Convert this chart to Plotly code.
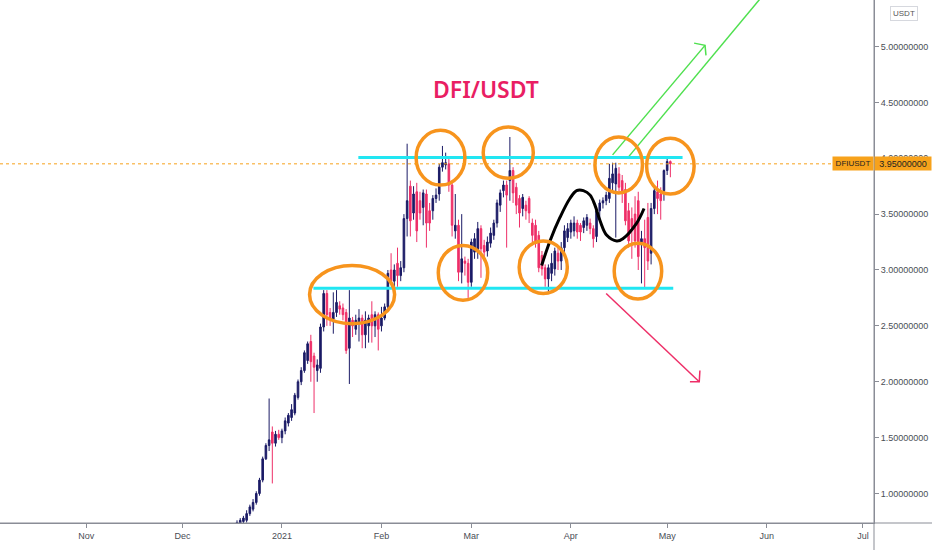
import pandas as pd
import plotly.graph_objects as go

# ---------------- data (daily DFI/USDT candles) ----------------
start_date = "2020-12-18"
opens = [0.70, 0.73, 0.75, 0.76, 0.82, 0.86, 0.92, 1.00, 1.12, 1.31,
         1.43, 1.55, 1.45, 1.53, 1.50, 1.56, 1.63, 1.68, 1.72, 1.86,
         2.00, 2.10, 2.19, 2.36, 2.23, 2.10, 2.12, 2.49, 2.79, 2.62,
         2.56, 2.62, 2.68, 2.66, 2.62, 2.30, 2.55, 2.47, 2.52, 2.57,
         2.42, 2.50, 2.60, 2.50, 2.60, 2.50, 2.57, 2.67, 3.00, 2.90,
         3.06, 2.95, 3.02, 3.46, 3.75, 3.51, 3.70, 3.62, 3.56, 3.68,
         3.53, 3.53, 3.64, 3.68, 3.92, 3.94, 3.95, 3.76, 3.35, 3.40,
         2.98, 3.08, 3.06, 2.89, 3.16, 3.16, 3.37, 3.22, 3.17, 3.24,
         3.31, 3.42, 3.58, 3.71, 3.76, 3.80, 3.89, 3.74, 3.64, 3.55,
         3.58, 3.64, 3.42, 3.40, 3.31, 3.13, 3.02, 2.92, 2.97, 3.01,
         3.15, 3.08, 3.20, 3.29, 3.34, 3.35, 3.42, 3.40, 3.38, 3.40,
         3.42, 3.37, 3.30, 3.53, 3.60, 3.62, 3.64, 3.78, 3.77, 3.86,
         3.80, 3.72, 3.53, 3.46, 3.50, 3.62, 3.24, 3.28, 3.47, 3.15,
         3.55, 3.70, 3.68, 3.71, 3.89, 3.97]
highs = [0.76, 0.78, 0.80, 0.85, 0.90, 0.95, 1.02, 1.14, 1.33, 1.45,
         1.85, 1.60, 1.56, 1.57, 1.58, 1.68, 1.72, 1.80, 1.90, 2.02,
         2.13, 2.28, 2.36, 2.42, 2.26, 2.20, 2.52, 2.82, 2.82, 2.66,
         2.80, 2.82, 2.72, 2.70, 2.65, 2.82, 2.58, 2.60, 2.65, 2.60,
         2.63, 2.60, 2.72, 2.63, 2.62, 2.67, 2.70, 3.00, 3.15, 3.05,
         3.20, 3.08, 3.50, 4.13, 3.80, 3.75, 3.78, 3.70, 3.72, 3.72,
         3.60, 3.67, 3.73, 3.95, 4.11, 4.05, 4.00, 3.78, 3.68, 3.45,
         3.50, 3.12, 3.10, 3.28, 3.33, 3.43, 3.40, 3.27, 3.30, 3.38,
         3.45, 3.63, 3.72, 3.80, 3.80, 4.19, 3.92, 3.78, 3.67, 3.68,
         3.62, 3.66, 3.46, 3.45, 3.35, 3.17, 3.05, 3.05, 3.15, 3.20,
         3.22, 3.25, 3.40, 3.42, 3.45, 3.48, 3.45, 3.42, 3.47, 3.50,
         3.46, 3.40, 3.56, 3.63, 3.65, 3.70, 3.95, 3.96, 3.96, 3.92,
         3.85, 3.78, 3.60, 3.56, 3.66, 3.70, 3.35, 3.45, 3.60, 3.60,
         3.75, 3.80, 3.74, 3.90, 4.00, 3.98]
lows = [0.68, 0.71, 0.73, 0.74, 0.80, 0.84, 0.90, 0.98, 1.10, 1.30,
        1.38, 1.09, 1.42, 1.48, 1.45, 1.53, 1.60, 1.65, 1.70, 1.84,
        1.97, 2.08, 2.16, 2.00, 1.72, 2.00, 2.08, 2.45, 2.50, 2.50,
        2.43, 2.58, 2.60, 2.55, 2.25, 1.98, 2.40, 2.42, 2.36, 2.30,
        2.30, 2.35, 2.35, 2.40, 2.28, 2.45, 2.55, 2.65, 2.88, 2.85,
        2.85, 2.90, 2.98, 3.30, 3.30, 3.45, 3.25, 3.45, 3.40, 3.20,
        3.35, 3.45, 3.60, 3.62, 3.88, 3.90, 3.70, 3.30, 3.28, 2.90,
        2.88, 2.95, 2.75, 2.85, 3.10, 3.10, 2.93, 3.10, 3.12, 3.20,
        3.27, 3.38, 3.52, 3.65, 3.20, 3.62, 3.60, 3.50, 3.38, 3.48,
        3.45, 3.42, 3.25, 3.20, 2.98, 2.95, 2.85, 2.80, 2.90, 2.95,
        3.00, 3.00, 3.15, 3.25, 3.28, 3.30, 3.28, 3.26, 3.33, 3.35,
        3.32, 3.20, 3.25, 3.45, 3.55, 3.58, 3.60, 3.70, 3.29, 3.70,
        3.60, 3.40, 3.20, 3.10, 3.20, 3.00, 2.88, 2.84, 3.00, 3.05,
        3.50, 3.50, 3.45, 3.62, 3.85, 3.83]
closes = [0.74, 0.76, 0.78, 0.82, 0.88, 0.92, 1.00, 1.12, 1.31, 1.43,
          1.48, 1.45, 1.53, 1.50, 1.56, 1.65, 1.70, 1.75, 1.88, 2.00,
          2.10, 2.26, 2.34, 2.18, 2.13, 2.15, 2.49, 2.79, 2.60, 2.56,
          2.62, 2.71, 2.65, 2.60, 2.28, 2.57, 2.50, 2.55, 2.57, 2.42,
          2.55, 2.57, 2.50, 2.60, 2.47, 2.57, 2.67, 2.97, 2.90, 3.00,
          2.95, 3.02, 3.46, 3.62, 3.44, 3.68, 3.35, 3.51, 3.69, 3.42,
          3.42, 3.64, 3.67, 3.92, 3.96, 3.96, 3.76, 3.40, 3.40, 2.98,
          3.10, 3.06, 2.89, 3.25, 3.28, 3.37, 3.19, 3.16, 3.25, 3.33,
          3.42, 3.60, 3.69, 3.76, 3.67, 3.89, 3.69, 3.58, 3.51, 3.65,
          3.53, 3.51, 3.31, 3.24, 3.02, 3.01, 2.92, 3.02, 3.06, 3.17,
          3.08, 3.20, 3.35, 3.37, 3.42, 3.42, 3.34, 3.34, 3.44, 3.47,
          3.37, 3.28, 3.53, 3.60, 3.62, 3.67, 3.82, 3.86, 3.91, 3.74,
          3.70, 3.44, 3.26, 3.38, 3.26, 3.12, 3.28, 3.20, 3.08, 3.55,
          3.71, 3.64, 3.62, 3.89, 3.97, 3.95]

last_price = 3.95
resistance = 4.007
support = 2.837
tick_values = [1.0, 1.5, 2.0, 2.5, 3.0, 3.5, 4.0, 4.5, 5.0]
month_ticks = ["2020-11-01", "2020-12-01", "2021-01-01", "2021-02-01", "2021-03-01",
               "2021-04-01", "2021-05-01", "2021-06-01", "2021-07-01"]
month_labels = ["Nov", "Dec", "2021", "Feb", "Mar", "Apr", "May", "Jun", "Jul"]

# drawing overlays, in (days after start_date, price)
resistance_span = [37.8, 138.8]
support_span = [23.8, 135.9]
ellipses = [  # day0, day1, price_low, price_high
    (22.6, 49.1, 2.52, 3.04),
    (55.8, 71.0, 3.76, 4.25),
    (76.7, 92.3, 3.82, 4.28),
    (62.7, 78.1, 2.73, 3.22),
    (87.9, 102.9, 2.79, 3.26),
    (111.5, 126.3, 3.69, 4.19),
    (127.6, 142.4, 3.68, 4.18),
    (117.5, 132.3, 2.74, 3.24),
]
curve_days = [94.9, 97.5, 100.6, 103.7, 105.8, 107.9, 110.0, 111.5, 113.1, 115.2, 118.3, 120.2, 124.5, 126.8]
curve_prices = [3.04, 3.26, 3.47, 3.64, 3.71, 3.71, 3.67, 3.58, 3.44, 3.31, 3.26, 3.28, 3.42, 3.55]
green_arrow_days = [117.0, 145.8]
green_arrow_prices = [4.03, 5.01]
green_head_days = [142.4, 145.8, 146.1]
green_head_prices = [5.03, 5.01, 4.92]
green_line_days = [121.9, 164.5]
green_line_prices = [4.01, 5.48]
red_arrow_days = [115.0, 144.0]
red_arrow_prices = [2.79, 2.0]
red_head_days = [141.1, 144.0, 144.2]
red_head_prices = [2.0, 2.0, 2.10]
title_pos = (77.6, 4.62)

# ---------------- figure ----------------
base = pd.Timestamp(start_date)
dates = pd.date_range(start_date, periods=len(closes), freq="D")


def d(day):
    return base + pd.Timedelta(days=day)


UP = "#1b1b66"
DOWN = "#ee2f68"
ORANGE = "#f7a21b"
CYAN = "#21e6f2"
GREEN = "#4fe04f"
AXIS = "#8a8d96"

fig = go.Figure()
fig.add_trace(go.Candlestick(
    x=dates, open=opens, high=highs, low=lows, close=closes,
    increasing=dict(line=dict(color=UP, width=1), fillcolor=UP),
    decreasing=dict(line=dict(color=DOWN, width=1), fillcolor=DOWN),
    whiskerwidth=0, showlegend=False, hoverinfo="skip",
))

fig.add_trace(go.Scatter(
    x=[d(v) for v in curve_days], y=curve_prices, mode="lines",
    line=dict(color="#000000", width=3, shape="spline", smoothing=1.0),
    showlegend=False, hoverinfo="skip"))
for xs, ys, col in [(green_arrow_days, green_arrow_prices, GREEN),
                    (green_head_days, green_head_prices, GREEN),
                    (green_line_days, green_line_prices, GREEN),
                    (red_arrow_days, red_arrow_prices, DOWN),
                    (red_head_days, red_head_prices, DOWN)]:
    fig.add_trace(go.Scatter(x=[d(v) for v in xs], y=ys, mode="lines",
                             line=dict(color=col, width=1.5),
                             showlegend=False, hoverinfo="skip"))

shapes = []
shapes.append(dict(type="line", xref="x", yref="y",
                   x0=d(resistance_span[0]), x1=d(resistance_span[1]),
                   y0=resistance, y1=resistance, line=dict(color=CYAN, width=3)))
shapes.append(dict(type="line", xref="x", yref="y",
                   x0=d(support_span[0]), x1=d(support_span[1]),
                   y0=support, y1=support, line=dict(color=CYAN, width=3)))
for a, b, lo, hi in ellipses:
    shapes.append(dict(type="circle", xref="x", yref="y", x0=d(a), x1=d(b),
                       y0=lo, y1=hi, line=dict(color="#f7941d", width=3.5)))
shapes.append(dict(type="line", xref="paper", yref="y", x0=0, x1=834 / 874,
                   y0=last_price, y1=last_price,
                   line=dict(color=ORANGE, width=1, dash="dot")))
# pane borders
shapes.append(dict(type="line", xref="paper", yref="paper", x0=0, x1=932 / 874,
                   y0=0, y1=0, line=dict(color=AXIS, width=1)))
shapes.append(dict(type="line", xref="paper", yref="paper", x0=1, x1=1,
                   y0=-27 / 523, y1=1, line=dict(color=AXIS, width=1)))

annotations = [
    dict(x=d(title_pos[0]), y=title_pos[1], xref="x", yref="y", text="DFI/USDT",
         showarrow=False, font=dict(family="Noto Sans", size=23, weight=600, color="#e91e63")),
    dict(x=1, y=last_price, xref="paper", yref="y", xanchor="right", text="DFIUSDT",
         showarrow=False, bgcolor=ORANGE, width=38, height=11, borderpad=1,
         font=dict(family="Liberation Sans", size=8, color="#222222")),
    dict(x=1, y=last_price, xref="paper", yref="y", xanchor="left", text="3.95000000",
         showarrow=False, bgcolor=ORANGE, width=54, height=11, borderpad=1,
         font=dict(family="Liberation Sans", size=9, color="#222222")),
    dict(x=904 / 874, y=1 - 14 / 523, xref="paper", yref="paper", text="USDT",
         xanchor="center", yanchor="middle",
         showarrow=False, bgcolor="#ffffff", bordercolor="#d6d8de", borderwidth=1,
         borderpad=2, font=dict(family="Liberation Sans", size=8, color="#555555")),
]

fig.update_layout(
    width=932, height=550,
    margin=dict(l=0, r=58, t=0, b=27),
    paper_bgcolor="#ffffff", plot_bgcolor="#ffffff",
    shapes=shapes, annotations=annotations,
    showlegend=False,
    xaxis=dict(type="date", range=["2020-10-05 04:00", "2021-07-04 10:30"],
               rangeslider=dict(visible=False), showgrid=False, zeroline=False,
               tickvals=month_ticks, ticktext=month_labels,
               ticks="outside", ticklen=4, tickcolor=AXIS,
               showline=True, linecolor=AXIS,
               tickfont=dict(family="Liberation Sans", size=9, color="#4a4d55")),
    yaxis=dict(side="right", range=[0.736, 5.416], showgrid=False, zeroline=False,
               tickvals=tick_values, tickformat=".8f",
               ticks="outside", ticklen=4, tickcolor=AXIS,
               showline=True, linecolor=AXIS,
               tickfont=dict(family="Liberation Sans", size=9, color="#4a4d55")),
)

fig.write_html("out.html", config={"displayModeBar": False},
               post_script="document.body.style.margin='0';document.body.style.overflow='hidden';")
